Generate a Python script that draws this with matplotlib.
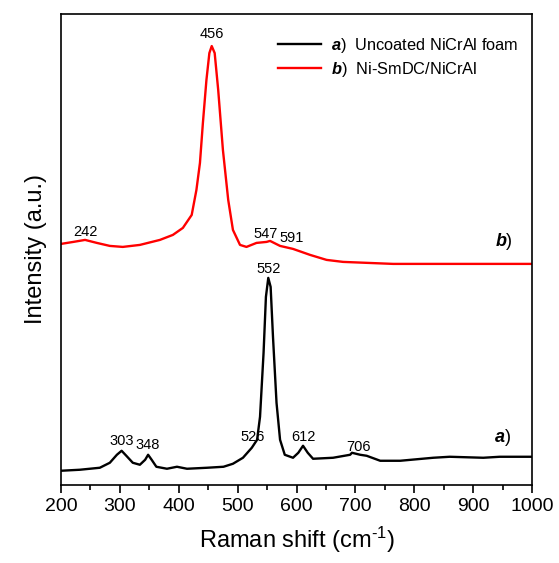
import matplotlib
matplotlib.use("Agg")
import matplotlib.pyplot as plt

plt.rcParams['font.family'] = ['Liberation Sans', 'DejaVu Sans']
plt.rcParams['mathtext.fontset'] = 'custom'
plt.rcParams['mathtext.rm'] = 'Liberation Sans'
plt.rcParams['mathtext.it'] = 'Liberation Sans:italic'
plt.rcParams['mathtext.bf'] = 'Liberation Sans:bold'
plt.rcParams['mathtext.bfit'] = 'Liberation Sans:bold:italic'

# a) uncoated NiCrAl foam (arbitrary units)
shift_a = [200, 232, 266, 283, 295, 303, 311, 322, 334, 343, 348, 354, 362, 380, 397,
           414, 448, 476, 492, 509, 524, 533, 538, 544, 548, 552, 556, 560, 566,
           572, 580, 594, 603, 611, 619, 628, 662, 691, 694, 708, 719, 742, 776,
           832, 860, 917, 945, 1000]
int_a = [29, 30, 32, 37, 45, 49, 44, 37, 35, 40, 45, 40, 33, 31, 33,
         31, 32, 33, 36, 42, 52, 60, 83, 147, 203, 222, 213, 163, 97,
         60, 45, 42, 47, 54, 47, 41, 42, 45, 47, 45, 44, 39, 39,
         42, 43, 42, 43, 43]

# b) Ni-SmDC/NiCrAl
shift_b = [200, 221, 241, 261, 283, 305, 334, 368, 390, 407, 422, 430, 436, 441, 447,
           452, 456, 461, 467, 475, 484, 492, 504, 515, 532, 549, 555, 572, 594,
           623, 651, 679, 764, 877, 1000]
int_b = [256, 258, 260, 257, 254, 253, 255, 260, 265, 272, 285, 310, 337, 377, 420,
         447, 454, 447, 410, 350, 300, 270, 255, 253, 257, 258, 259, 254, 251,
         245, 240, 238, 236, 236, 236]

peaks_a = [303, 348, 526, 552, 612, 706]
peaks_b = [242, 456, 547, 591]

# label y positions (same units as intensities)
label_y_a = [59, 55, 63, 231, 63, 53]
label_y_b = [268, 466, 266, 262]

fig = plt.figure(figsize=(5.59, 5.63), dpi=100)
ax = fig.add_axes([0.109, 0.139, 0.843, 0.836])

ax.plot(shift_a, int_a, color='black', lw=1.7, label=r'$\mathbfit{a}$)  Uncoated NiCrAl foam')
ax.plot(shift_b, int_b, color='#ff0000', lw=1.7, label=r'$\mathbfit{b}$)  Ni-SmDC/NiCrAl')

for p, y in zip(peaks_a, label_y_a):
    ax.text(p, y, str(p), ha='center', va='center', fontsize=10.5)
for p, y in zip(peaks_b, label_y_b):
    ax.text(p, y, str(p), ha='center', va='center', fontsize=10.5)

ax.text(952, 258, r'$\mathbfit{b}$)', ha='center', va='center', fontsize=13)
ax.text(950, 62, r'$\mathbfit{a}$)', ha='center', va='center', fontsize=13)

ax.set_xlim(200, 1000)
ax.set_ylim(15, 486)
ax.set_xticks(range(200, 1001, 100))
ax.set_xticks(range(250, 1000, 100), minor=True)
ax.set_yticks([])
ax.tick_params(axis='x', which='major', direction='out', length=6, width=1.2, labelsize=14)
ax.tick_params(axis='x', which='minor', direction='out', length=3.5, width=1.2)
for s in ax.spines.values():
    s.set_linewidth(1.2)

ax.set_xlabel(r'Raman shift (cm$^{\text{-}1}$)', fontsize=17, labelpad=7)
ax.set_ylabel('Intensity (a.u.)', fontsize=17, labelpad=10)

ax.legend(loc='upper left', bbox_to_anchor=(0.43, 0.985), frameon=False, fontsize=11.8,
          handlelength=2.6, handletextpad=0.6, labelspacing=0.3)

fig.savefig('out.png', dpi=100)
